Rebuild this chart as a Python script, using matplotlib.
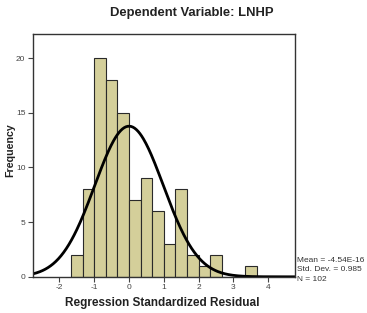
import numpy as np
from matplotlib import pyplot as plt

plt.rcParams['font.family'] = ['Liberation Sans', 'DejaVu Sans']
plt.rcParams['axes.unicode_minus'] = False

# histogram of residuals, bins of width 1/3
bin_edges = [-5/3, -4/3, -1, -2/3, -1/3, 0, 1/3, 2/3, 1, 4/3, 5/3, 2, 7/3, 8/3, 3, 10/3, 11/3]
counts = [2, 8, 20, 18, 15, 7, 9, 6, 3, 8, 2, 1, 2, 0, 0, 1]
mean = -4.54e-16
std = 0.985
n = 102

x_ticks = [-2, -1, 0, 1, 2, 3, 4]
y_ticks = [0, 5, 10, 15, 20]

fig = plt.figure(figsize=(3.67, 3.13), dpi=100)
ax = fig.add_axes([33/367, 1 - 276.8/313, (295 - 33)/367, (276.8 - 34)/313])

ax.bar(bin_edges[:-1], counts, width=np.diff(bin_edges), align='edge',
       color='#d4cf9a', edgecolor='#2a2a2a', linewidth=0.8)

xlim = (-2.76, 4.77)
xs = np.linspace(xlim[0], xlim[1], 300)
scale = n * (bin_edges[1] - bin_edges[0])
ys = scale / (std * np.sqrt(2 * np.pi)) * np.exp(-0.5 * ((xs - mean) / std) ** 2)
ax.plot(xs, ys, color='black', linewidth=2.0)

ax.set_xlim(xlim)
ax.set_ylim(0, 22.2)
ax.set_xticks(x_ticks)
ax.set_yticks(y_ticks)
ax.tick_params(axis='both', labelsize=6, length=3.5, width=0.8, color='#444444',
               labelcolor='#444444', pad=2)
for s in ax.spines.values():
    s.set_color('#333333')
    s.set_linewidth(1.0)

fig.text(192/367, 1 - 13/313, 'Dependent Variable: LNHP', ha='center', va='center',
         fontsize=9.4, fontweight='bold', color='#222222')
fig.text(162/367, 1 - 303/313, 'Regression Standardized Residual', ha='center', va='center',
         fontsize=8.5, fontweight='bold', color='#222222')
fig.text(10/367, 1 - 150/313, 'Frequency', ha='center', va='center', rotation=90,
         fontsize=7.7, fontweight='bold', color='#222222')

stats = ['Mean = -4.54E-16', 'Std. Dev. = 0.985', 'N = 102']
for i, line in enumerate(stats):
    fig.text(297/367, 1 - (260.5 + 9.3*i)/313, line, ha='left', va='center',
             fontsize=6, color='#333333')

fig.savefig('out.png', dpi=100)
